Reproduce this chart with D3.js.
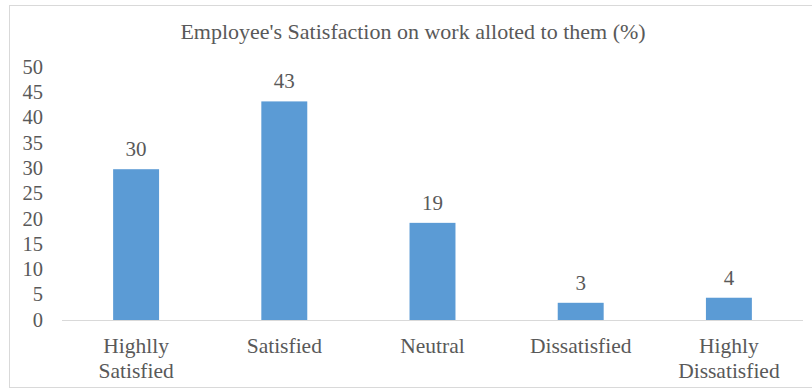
<!DOCTYPE html>
<html>
<head>
<meta charset="utf-8">
<script src="https://cdn.jsdelivr.net/npm/d3@7"></script>
<style>
  html, body { margin: 0; padding: 0; background: #fff; }
  svg { display: block; }
</style>
</head>
<body>
<div id="chart"></div>
<script>
// ----- Data -----
const categories = ["Highlly\nSatisfied", "Satisfied", "Neutral", "Dissatisfied", "Highly\nDissatisfied"];
const values     = [29.8, 43.2, 19.2, 3.4, 4.4];
const yTicks     = [0, 5, 10, 15, 20, 25, 30, 35, 40, 45, 50];
const title      = "Employee's Satisfaction on work alloted to them (%)";

const width  = 812;
const height = 390;
const serif  = '"Liberation Serif"';
const textColor = "#595959";

const svg = d3.select("#chart")
  .append("svg")
  .attr("width", width)
  .attr("height", height);

// outer frame
svg.append("rect")
  .attr("x", 9.5)
  .attr("y", 5.5)
  .attr("width", 900)
  .attr("height", 382)
  .attr("fill", "#fff")
  .attr("stroke", "#d9d9d9");

const x = d3.scaleBand()
  .domain(categories)
  .range([62, 803])
  .paddingInner(0.69)
  .paddingOuter(0.345);

const y = d3.scaleLinear()
  .domain([0, 50])
  .range([320, 67]);

function styleText(sel, size) {
  return sel
    .style("font-family", serif)
    .style("font-size", size + "px")
    .style("fill", textColor);
}

// title
styleText(svg.append("text"), 22)
  .attr("x", 413)
  .attr("y", 39)
  .attr("text-anchor", "middle")
  .text(title);

// y tick labels
styleText(
  svg.selectAll(".ytick")
    .data(yTicks)
    .enter()
    .append("text")
    .attr("class", "ytick"), 20.5)
  .attr("x", 43)
  .attr("y", d => y(d))
  .attr("dy", "0.33em")
  .attr("text-anchor", "end")
  .text(d => d);

// bars
svg.selectAll(".bar")
  .data(values)
  .enter()
  .append("rect")
  .attr("class", "bar")
  .attr("x", (d, i) => x(categories[i]))
  .attr("y", d => y(d))
  .attr("width", x.bandwidth())
  .attr("height", d => y(0) - y(d))
  .attr("fill", "#5b9bd5");

// x axis line
svg.append("line")
  .attr("x1", 62)
  .attr("x2", 803)
  .attr("y1", y(0) + 0.5)
  .attr("y2", y(0) + 0.5)
  .attr("stroke", "#d9d9d9");

// value labels
styleText(
  svg.selectAll(".bar-label")
    .data(values)
    .enter()
    .append("text")
    .attr("class", "bar-label"), 21)
  .attr("x", (d, i) => x(categories[i]) + x.bandwidth() / 2)
  .attr("y", d => y(d) - 13)
  .attr("text-anchor", "middle")
  .text(d => d3.format(".0f")(d));

// category labels (may wrap onto two lines)
const catLabels = styleText(
  svg.selectAll(".cat")
    .data(categories)
    .enter()
    .append("text")
    .attr("class", "cat"), 21.5)
  .attr("text-anchor", "middle");

catLabels.each(function (d) {
  const el = d3.select(this);
  const cx = x(d) + x.bandwidth() / 2;
  d.split("\n").forEach((line, i) => {
    el.append("tspan")
      .attr("x", cx)
      .attr("y", 353 + i * 25)
      .text(line);
  });
});
</script>
</body>
</html>
